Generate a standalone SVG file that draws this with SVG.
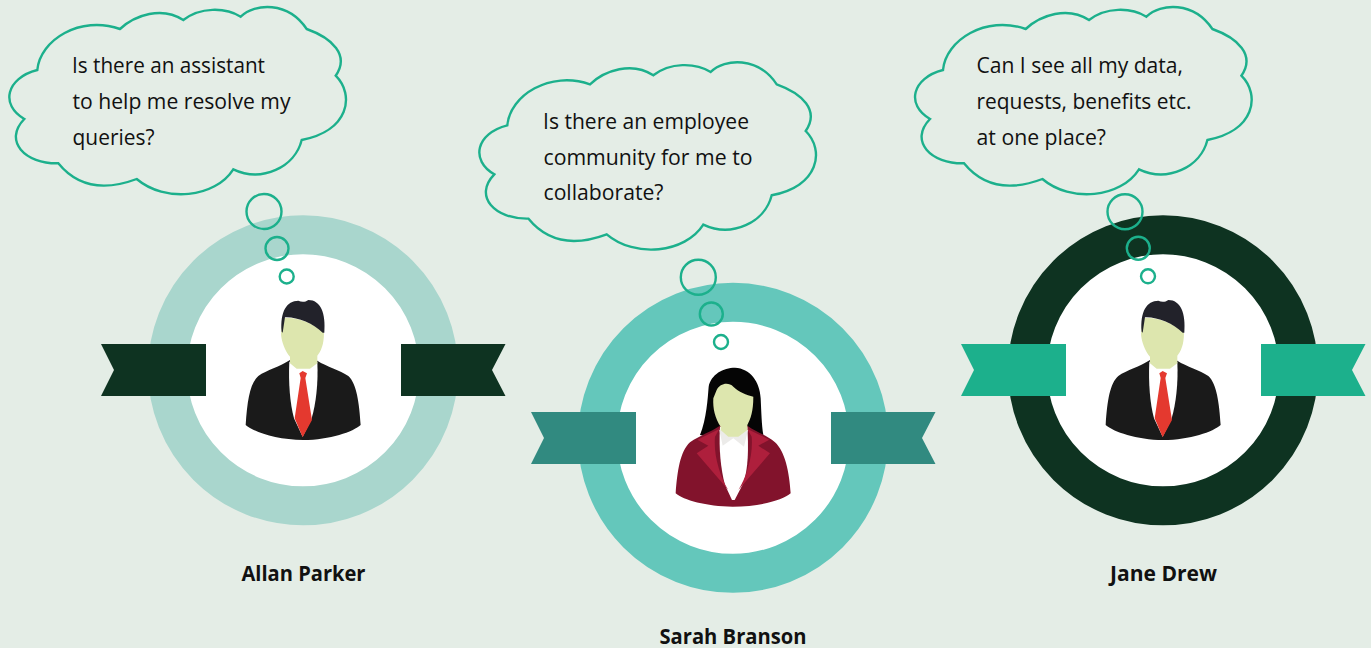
<svg xmlns="http://www.w3.org/2000/svg" xmlns:xlink="http://www.w3.org/1999/xlink" width="1371" height="648" viewBox="0 0 1371 648">
<style>
.cloud{fill:none;stroke:#1cb08c;stroke-width:2.4;stroke-linejoin:miter}
.dot{fill:none;stroke:#1cb08c;stroke-width:2.4}
.q{font-family:"Open Sans","Noto Sans",sans-serif;font-size:22.500px;fill:#111}
.n{font-family:"Open Sans","Noto Sans",sans-serif;font-size:21.500px;font-weight:700;fill:#111;text-anchor:middle}
</style>
<defs>
<path id="cl" class="cloud" d="M37.300,70C40,40 80,15 120,29C135,15 162,6 183.300,20C200,7 225,7 240.700,16.700C255,3 288,1 306.700,29C332,38 350,55 335.700,75.700C355,95 349,131 301.700,140C295,167 262,183 233.300,169.300C215,198 165,203 136.700,179C110,189 80,190 58.300,163.300C25,164 3,141 24.300,119C0,105 6,78 37.300,70Z"/>
<g id="man">
<path fill="#1a1a1a" d="M47,405C52,330 60,280 85,258C110,240 150,230 180,210L262,212C290,230 330,240 355,258C380,280 388,340 392,405C370,425 300,450 220,450C140,450 70,425 47,405Z"/>
<path fill="#fff" d="M178,215L262,215C265,280 258,340 245,385L218,440L192,385C180,340 175,280 178,215Z"/>
<path fill="#e4392f" d="M208,250L218,243L231,250L226,264L212,264ZM212,264L226,264L246,390L218,442L194,385Z"/>
<path fill="#dde6ae" d="M158,85C200,78 250,100 282,128C282,165 272,185 262,197L262,220L240,236L200,236L180,220L180,200C165,185 153,150 153,130Z"/>
<path fill="#22222a" d="M155,125C150,65 170,32 205,32C215,37 225,37 235,30C272,30 288,70 283,128L278,128C250,100 200,80 165,82L158,128Z"/>
</g>
<g id="woman">
<path fill="#050505" d="M120,240C140,190 143,130 146,95C153,58 190,38 225,38C270,40 300,80 302,130C304,170 305,210 310,240L180,250Z"/>
<path fill="#82132c" d="M47,415C52,350 60,290 90,262C120,240 150,232 180,212L262,212C290,232 320,240 345,262C375,290 388,350 392,415C370,435 300,455 218,455C140,455 70,435 47,415Z"/>
<path fill="#fff" d="M180,215L262,215C266,280 265,340 250,385L224,435L216,435L195,390C182,340 176,280 180,215Z"/>
<path fill="#ecebe9" d="M178,225L188,272L220,250L252,275L264,225L220,215Z"/>
<path fill="#ae1f3c" d="M178,222L112,254L145,272L110,295L205,405C180,365 160,300 165,245ZM262,222L328,254L295,272L330,295L235,405C260,365 280,300 275,245Z"/>
<path fill="#dde6ae" d="M170,105C180,85 205,80 220,95C235,110 260,120 280,125C280,170 272,190 262,210L262,225L235,245L205,245L182,225L182,215C165,190 158,160 160,130Z"/>
</g>
</defs>
<rect width="1371" height="648" fill="#e4ede6"/>
<g id="node-allan">
<circle cx="303" cy="370.300" r="135.500" fill="#fff" stroke="#a9d6cd" stroke-width="39"/>
<path fill="#0e3321" d="M101,344H206V396H101L114,370ZM401,344H505.500L492,370L505.500,396H401Z"/>
<use href="#man" transform="translate(230 290) scale(.3333)"/>
<use href="#cl"/>
<text class="q" x="72" y="73" textLength="193" lengthAdjust="spacingAndGlyphs">Is there an assistant</text>
<text class="q" x="72.500" y="109" textLength="218" lengthAdjust="spacingAndGlyphs">to help me resolve my</text>
<text class="q" x="72.500" y="145" textLength="82" lengthAdjust="spacingAndGlyphs">queries?</text>
<text class="n" x="303.500" y="581" textLength="124" lengthAdjust="spacingAndGlyphs">Allan Parker</text>
</g>
<g id="node-sarah">
<circle cx="733" cy="437.800" r="135.500" fill="#fff" stroke="#64c7bb" stroke-width="39"/>
<path fill="#318a80" d="M531,412H636V464H531L544,438ZM831,412H935.500L922,438L935.500,464H831Z"/>
<use href="#woman" transform="translate(660 355) scale(.3333)"/>
<use href="#cl" x="470" y="55.300"/>
<text class="q" x="543" y="129" textLength="206" lengthAdjust="spacingAndGlyphs">Is there an employee</text>
<text class="q" x="543.500" y="164.500" textLength="209" lengthAdjust="spacingAndGlyphs">community for me to</text>
<text class="q" x="543.500" y="200" textLength="120" lengthAdjust="spacingAndGlyphs">collaborate?</text>
<text class="n" x="733" y="644" textLength="147" lengthAdjust="spacingAndGlyphs">Sarah Branson</text>
</g>
<g id="node-jane">
<circle cx="1163" cy="370.300" r="135.500" fill="#fff" stroke="#0e3321" stroke-width="39"/>
<path fill="#1cb08c" d="M961,344H1066V396H961L974,370ZM1261,344H1365.500L1352,370L1365.500,396H1261Z"/>
<use href="#man" transform="translate(1090 290) scale(.3333)"/>
<use href="#cl" x="905.700"/>
<text class="q" x="976.500" y="73" textLength="206.500" lengthAdjust="spacingAndGlyphs">Can I see all my data,</text>
<text class="q" x="976.500" y="109" textLength="215" lengthAdjust="spacingAndGlyphs">requests, benefits etc.</text>
<text class="q" x="976.500" y="145" textLength="129.500" lengthAdjust="spacingAndGlyphs">at one place?</text>
<text class="n" x="1163.500" y="581" textLength="107" lengthAdjust="spacingAndGlyphs">Jane Drew</text>
</g>
<g id="connectors">
<circle class="dot" cx="264" cy="211.500" r="17.500"/><circle class="dot" cx="277" cy="248.500" r="11.500"/><circle class="dot" cx="286.700" cy="276.500" r="7"/>
<circle class="dot" cx="698.300" cy="277.300" r="17.500"/><circle class="dot" cx="711.300" cy="314" r="11.500"/><circle class="dot" cx="721" cy="342" r="7"/>
<circle class="dot" cx="1125" cy="211.700" r="17.500"/><circle class="dot" cx="1138.300" cy="248.300" r="11.500"/><circle class="dot" cx="1148" cy="276.300" r="7"/>
</g>
</svg>
